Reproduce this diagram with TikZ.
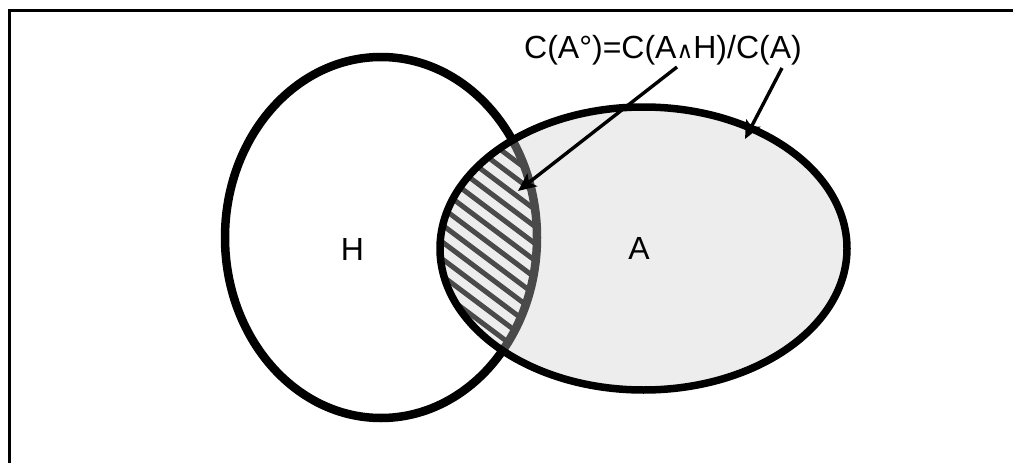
\documentclass[tikz,border=0pt]{standalone}
\usepackage{fontspec}
\setmainfont{Liberation Sans}
\newfontfamily\symfont{DejaVu Sans}
\usetikzlibrary{arrows.meta}
\definecolor{afill}{gray}{0.81}
\tikzset{
  frameline/.style={line width=3pt, black},
  vennH/.style={line width=8.5pt, black},
  vennA/.style={line width=7.5pt, draw=black, fill=afill, fill opacity=0.36},
  hatchline/.style={line width=5pt, black},
  pointer/.style={line width=3.4pt, black, -{Stealth[length=18pt,width=16pt,inset=4pt]}},
  lbl/.style={anchor=base, inner sep=0pt, font=\fontsize{32}{38}\selectfont},
}
\begin{document}
\begin{tikzpicture}[x=1pt,y=-1pt]
\useasboundingbox (0,0) rectangle (1013,463);
\fill[white] (0,0) rectangle (1013,463);
% frame
\draw[frameline] (9.5,463) -- (9.5,10.5) -- (1013,10.5);
% H circle
\draw[vennH] (381,237.5) ellipse [x radius=156pt, y radius=180.5pt];
% hatching of the intersection
\begin{scope}
  \clip (381,237.5) ellipse [x radius=156pt, y radius=180.5pt];
  \clip (643.5,248.5) ellipse [x radius=203.5pt, y radius=141.5pt];
  \foreach \k in {-13,...,11}
    \draw[hatchline] (400,{0.75*400-106.7+17*\k}) -- (570,{0.75*570-106.7+17*\k});
\end{scope}
% A circle
\draw[vennA] (643.5,248.5) ellipse [x radius=203.5pt, y radius=141.5pt];
% labels
\node[lbl] (hlab) at (352.5,260) {H};
\node[lbl] (alab) at (639,259) {A};
\node[lbl] (title) at (663,58) {C(A°)=C(A{\symfont\fontsize{23}{26}\selectfont ∧}H)/C(A)};
% arrows
\coordinate (s1) at (677,67);
\coordinate (t1) at (518,191);
\coordinate (s2) at (782,68);
\coordinate (t2) at (745,139);
\draw[pointer] (s1) -- (t1);
\draw[pointer] (s2) -- (t2);
\end{tikzpicture}
\end{document}
